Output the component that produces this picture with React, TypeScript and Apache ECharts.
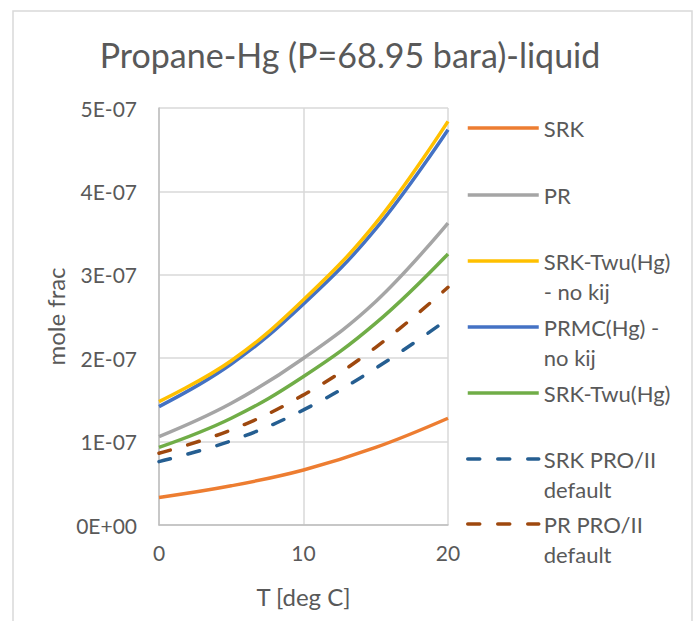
import React, { useEffect, useRef } from "react";
import * as echarts from "echarts";

// Temperature [deg C]
const temps = [0, 5, 10, 15, 20];
// mole fraction values in units of 1E-07
const srk = [0.33, 0.47, 0.66, 0.93, 1.28];
const pr = [1.06, 1.46, 2.0, 2.68, 3.62];
const srkTwuNoKij = [1.48, 1.97, 2.7, 3.62, 4.84];
const prmcNoKij = [1.42, 1.93, 2.65, 3.55, 4.74];
const srkTwu = [0.93, 1.28, 1.78, 2.42, 3.25];
const srkProII = [0.76, 1.01, 1.38, 1.88, 2.47];
const prProII = [0.86, 1.14, 1.56, 2.13, 2.85];

const seriesNames = [
  "SRK",
  "PR",
  "SRK-Twu(Hg)\n- no kij",
  "PRMC(Hg) -\nno kij",
  "SRK-Twu(Hg)",
  "SRK PRO/II\ndefault",
  "PR PRO/II\ndefault",
];
const seriesValues = [srk, pr, srkTwuNoKij, prmcNoKij, srkTwu, srkProII, prProII];
const seriesColors = ["#ED7D31", "#A5A5A5", "#FFC000", "#4472C4", "#70AD47", "#255E91", "#9E480E"];
const seriesDashed = [false, false, false, false, false, true, true];

const yTickLabels = ["0E+00", "1E-07", "2E-07", "3E-07", "4E-07", "5E-07"];
const xTickLabels = ["0", "10", "20"];

const FONT = "Lato";
const TEXT = "#595959";

export default function App() {
  const ref = useRef<HTMLDivElement>(null);
  useEffect(() => {
    if (!ref.current) return;
    const chart = echarts.init(ref.current, null, { renderer: "svg" });
    const legendCenters = [128, 195, 261, 327, 393, 459, 524];
    const option = {
      animation: false,
      backgroundColor: "#ffffff",
      textStyle: { fontFamily: FONT },
      title: {
        text: "Propane-Hg (P=68.95 bara)-liquid",
        left: "center",
        top: 37,
        padding: 0,
        textStyle: { fontFamily: FONT, fontSize: 34, fontWeight: "normal", color: TEXT },
      },
      graphic: [
        {
          type: "rect",
          shape: { x: 13, y: 11, width: 679, height: 640 },
          style: { fill: "none", stroke: "#d9d9d9", lineWidth: 1.5 },
          silent: true,
        },
      ],
      legend: seriesNames.map((n, i) => {
        const two = n.includes("\n");
        return {
          data: [{ name: n }],
          left: 466,
          top: legendCenters[i] - (two ? 45 : 15),
          orient: "vertical",
          padding: 0,
          itemWidth: 71,
          itemHeight: 14,
          itemGap: 0,
          selectedMode: false,
          itemStyle: { opacity: 0 },
          lineStyle: { width: 3.5 },
          formatter: (name: string) => (name.includes("\n") ? "\n" + name : name),
          textStyle: {
            fontFamily: FONT,
            fontSize: 22,
            color: TEXT,
            lineHeight: 30,
          },
        };
      }),
      grid: { left: 159, right: 252, top: 108, bottom: 96, containLabel: false },
      xAxis: {
        type: "value",
        min: 0,
        max: 20,
        interval: 10,
        name: "T [deg C]",
        nameLocation: "middle",
        nameGap: 59,
        nameTextStyle: { fontFamily: FONT, fontSize: 24, color: TEXT },
        axisLine: { lineStyle: { color: "#bfbfbf", width: 1.5 } },
        axisTick: { show: false },
        axisLabel: {
          margin: 17,
          fontFamily: FONT,
          fontSize: 21,
          color: TEXT,
          formatter: (v: number) => xTickLabels[Math.round(v / 10)] ?? "",
        },
        splitLine: { show: true, lineStyle: { color: "#d9d9d9", width: 1.5 } },
      },
      yAxis: {
        type: "value",
        min: 0,
        max: 5,
        interval: 1,
        name: "mole frac",
        nameLocation: "middle",
        nameGap: 92,
        nameTextStyle: { fontFamily: FONT, fontSize: 24, color: TEXT },
        axisLine: { show: true, lineStyle: { color: "#bfbfbf", width: 1.5 } },
        axisTick: { show: false },
        axisLabel: {
          margin: 22,
          fontFamily: FONT,
          fontSize: 21,
          color: TEXT,
          formatter: (v: number) => yTickLabels[Math.round(v)] ?? "",
        },
        splitLine: { show: true, lineStyle: { color: "#d9d9d9", width: 1.5 } },
      },
      series: seriesNames.map((n, i) => ({
        name: n,
        type: "line",
        smooth: 0.4,
        symbol: "none",
        showSymbol: false,
        data: temps.map((t, j) => [t, seriesValues[i][j]]),
        lineStyle: {
          color: seriesColors[i],
          width: 3.5,
          type: seriesDashed[i] ? [12, 18] : "solid",
          cap: seriesDashed[i] ? "round" : "butt",
        },
        itemStyle: { color: seriesColors[i] },
        emphasis: { disabled: true },
        z: 10 - i,
      })),
    };
    chart.setOption(option as any);
    return () => chart.dispose();
  }, []);
  return (
    <div
      ref={ref}
      style={{ position: "absolute", left: 0, top: 0, width: 700, height: 621, background: "#fff" }}
    />
  );
}
